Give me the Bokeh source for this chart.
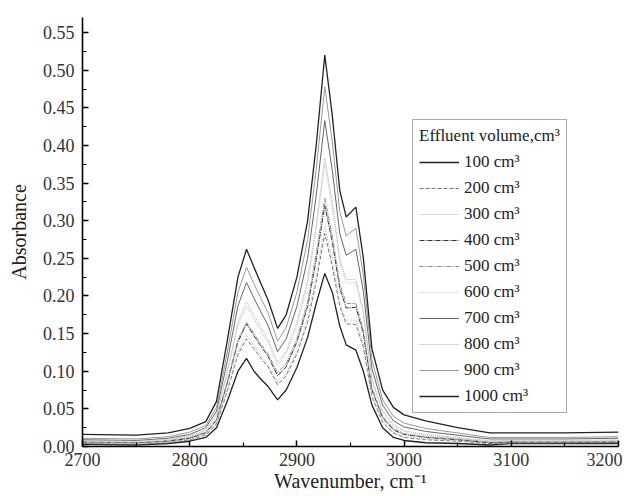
from bokeh.plotting import figure
from bokeh.models import Legend, LegendItem, FixedTicker, NumeralTickFormatter, Range1d
from bokeh.embed import file_html
from bokeh.resources import INLINE

wavenumber = [2700, 2750, 2780, 2800, 2815, 2825, 2835, 2845, 2853, 2860, 2866, 2873, 2882, 2890, 2900,
              2910, 2918, 2926, 2933, 2940, 2946, 2955, 2962, 2970, 2980, 2990, 3000, 3020, 3050, 3080,
              3100, 3150, 3200]

a100 = [0.003, 0.002, 0.004, 0.007, 0.012, 0.025, 0.060, 0.100, 0.117, 0.100, 0.090, 0.080, 0.062, 0.075, 0.105,
        0.145, 0.190, 0.230, 0.205, 0.160, 0.135, 0.128, 0.100, 0.055, 0.025, 0.012, 0.008, 0.005, 0.004, 0.002,
        0.004, 0.004, 0.004]
a200 = [0.004, 0.003, 0.005, 0.009, 0.015, 0.030, 0.073, 0.122, 0.143, 0.130, 0.118, 0.106, 0.082, 0.094, 0.123,
        0.165, 0.219, 0.283, 0.240, 0.186, 0.163, 0.162, 0.132, 0.066, 0.032, 0.018, 0.012, 0.009, 0.007, 0.004,
        0.005, 0.005, 0.005]
a300 = [0.005, 0.004, 0.006, 0.010, 0.016, 0.032, 0.076, 0.126, 0.148, 0.134, 0.122, 0.109, 0.086, 0.097, 0.127,
        0.170, 0.226, 0.292, 0.248, 0.192, 0.168, 0.168, 0.137, 0.068, 0.034, 0.019, 0.013, 0.010, 0.008, 0.005,
        0.005, 0.005, 0.006]
a400 = [0.006, 0.005, 0.007, 0.011, 0.018, 0.035, 0.084, 0.139, 0.163, 0.147, 0.134, 0.120, 0.094, 0.106, 0.139,
        0.186, 0.248, 0.320, 0.272, 0.210, 0.184, 0.185, 0.150, 0.075, 0.038, 0.022, 0.016, 0.012, 0.009, 0.005,
        0.006, 0.006, 0.006]
a500 = [0.006, 0.005, 0.008, 0.012, 0.019, 0.036, 0.086, 0.142, 0.165, 0.150, 0.137, 0.123, 0.098, 0.110, 0.143,
        0.192, 0.256, 0.330, 0.280, 0.216, 0.190, 0.190, 0.155, 0.078, 0.040, 0.024, 0.017, 0.013, 0.010, 0.006,
        0.006, 0.006, 0.007]
a600 = [0.007, 0.006, 0.009, 0.013, 0.021, 0.040, 0.097, 0.160, 0.186, 0.169, 0.154, 0.138, 0.108, 0.123, 0.160,
        0.216, 0.289, 0.375, 0.318, 0.245, 0.217, 0.218, 0.176, 0.088, 0.045, 0.027, 0.020, 0.015, 0.011, 0.007,
        0.007, 0.007, 0.008]
a700 = [0.009, 0.008, 0.011, 0.016, 0.025, 0.047, 0.113, 0.187, 0.218, 0.197, 0.180, 0.161, 0.126, 0.143, 0.186,
        0.250, 0.333, 0.433, 0.367, 0.283, 0.254, 0.262, 0.206, 0.103, 0.055, 0.034, 0.026, 0.020, 0.015, 0.010,
        0.010, 0.010, 0.011]
a800 = [0.008, 0.007, 0.010, 0.014, 0.022, 0.042, 0.100, 0.165, 0.192, 0.174, 0.159, 0.142, 0.112, 0.127, 0.165,
        0.221, 0.295, 0.383, 0.325, 0.250, 0.222, 0.222, 0.180, 0.090, 0.047, 0.029, 0.021, 0.016, 0.012, 0.008,
        0.008, 0.008, 0.009]
a900 = [0.011, 0.010, 0.013, 0.019, 0.028, 0.052, 0.125, 0.205, 0.238, 0.216, 0.198, 0.178, 0.140, 0.158, 0.205,
        0.275, 0.368, 0.478, 0.405, 0.312, 0.280, 0.290, 0.228, 0.115, 0.062, 0.040, 0.031, 0.024, 0.018, 0.012,
        0.012, 0.012, 0.013]
a1000 = [0.016, 0.015, 0.018, 0.024, 0.033, 0.060, 0.140, 0.225, 0.262, 0.238, 0.218, 0.195, 0.157, 0.175, 0.225,
         0.300, 0.400, 0.520, 0.440, 0.340, 0.305, 0.318, 0.250, 0.130, 0.075, 0.052, 0.042, 0.034, 0.025, 0.018,
         0.018, 0.018, 0.019]

labels = ["100 cm³", "200 cm³", "300 cm³", "400 cm³", "500 cm³",
          "600 cm³", "700 cm³", "800 cm³", "900 cm³", "1000 cm³"]
series = [a100, a200, a300, a400, a500, a600, a700, a800, a900, a1000]
x_ticks = [2700, 2800, 2900, 3000, 3100, 3200]
y_ticks = [0.00, 0.05, 0.10, 0.15, 0.20, 0.25, 0.30, 0.35, 0.40, 0.45, 0.50, 0.55]

styles = [
    ("#222222", "solid", 1.3),
    ("#777777", "4 2", 1.0),
    ("#bbbbbb", "1 1", 1.0),
    ("#333333", "5 1 1 1", 1.0),
    ("#888888", "4 1 1 1 1 1", 1.0),
    ("#c4c4c4", "1 1", 1.0),
    ("#666666", "solid", 1.0),
    ("#b0b0b0", "1 1", 1.0),
    ("#999999", "solid", 1.0),
    ("#222222", "solid", 1.3),
]

FONT = "Liberation Serif"

p = figure(width=622, height=496, output_backend="svg", toolbar_location=None,
           x_range=Range1d(2700, 3200), y_range=Range1d(0, 0.57),
           min_border_left=82, min_border_right=4, min_border_top=17, min_border_bottom=50)
p.outline_line_color = None
p.xgrid.visible = False
p.ygrid.visible = False
p.background_fill_color = "white"

items = []
for lab, ys, (col, dash, w) in zip(labels, series, styles):
    r = p.line(wavenumber, ys, line_color=col, line_dash=dash, line_width=w)
    items.append(LegendItem(label=lab, renderers=[r]))

for ax in (p.xaxis[0], p.yaxis[0]):
    ax.axis_line_width = 1.6
    ax.axis_line_color = "black"
    ax.major_tick_in = 6
    ax.major_tick_out = 0
    ax.minor_tick_in = 4
    ax.minor_tick_out = 0
    ax.major_tick_line_width = 1.5
    ax.minor_tick_line_width = 1.2
    ax.major_label_text_font = FONT
    ax.major_label_text_font_size = "18px"
    ax.major_label_text_color = "#333333"
    ax.axis_label_text_font = FONT
    ax.axis_label_text_font_size = "20px"
    ax.axis_label_text_font_style = "normal"
    ax.axis_label_text_color = "#222222"

p.xaxis.ticker = FixedTicker(ticks=x_ticks, minor_ticks=[2750, 2850, 2950, 3050, 3150])
p.yaxis.ticker = FixedTicker(ticks=y_ticks,
                             minor_ticks=[0.025, 0.075, 0.125, 0.175, 0.225, 0.275, 0.325, 0.375, 0.425,
                                          0.475, 0.525])
p.yaxis.formatter = NumeralTickFormatter(format="0.00")
p.xaxis.axis_label = "Wavenumber, cm⁻¹"
p.yaxis.axis_label = "Absorbance"
p.xaxis.major_label_standoff = 6
p.yaxis.major_label_standoff = 8
p.xaxis.axis_label_standoff = 1
p.yaxis.axis_label_standoff = 10

legend = Legend(items=items, location=(330, 33), title="Effluent volume,cm³",
                title_text_font=FONT, title_text_font_size="17px", title_text_font_style="normal",
                title_text_color="#222222", title_standoff=6,
                label_text_font=FONT, label_text_font_size="17px", label_text_color="#222222",
                label_height=20, glyph_height=20, glyph_width=40, label_standoff=5,
                spacing=6, padding=6, margin=0,
                border_line_color="#555555", border_line_width=1,
                background_fill_color="white", background_fill_alpha=1)
p.add_layout(legend, "center")

open("out.html", "w").write(file_html(p, INLINE))
